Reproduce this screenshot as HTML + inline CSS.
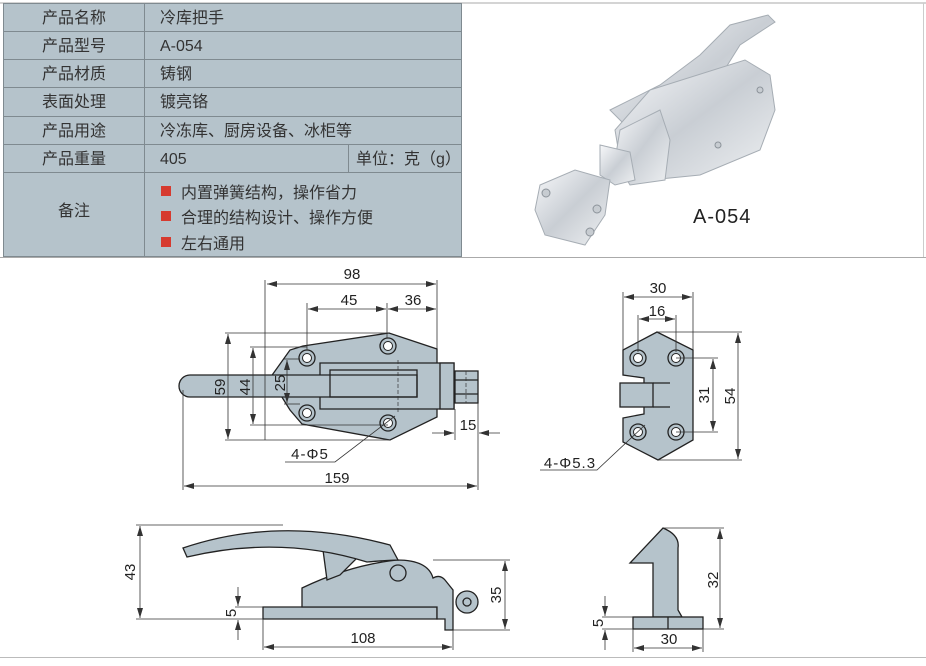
<!DOCTYPE html>
<html><head><meta charset="utf-8"><style>
body{margin:0;background:#fff;width:926px;height:661px;overflow:hidden;font-family:"Liberation Sans","Noto Sans CJK SC",sans-serif}
svg text{font-family:"Liberation Sans","Noto Sans CJK SC",sans-serif}
</style></head><body>
<svg width="926" height="661" viewBox="0 0 926 661" xmlns="http://www.w3.org/2000/svg">
<defs>
<marker id="a" viewBox="0 0 10 6" refX="10" refY="3" markerWidth="10" markerHeight="6" orient="auto-start-reverse" markerUnits="userSpaceOnUse"><path d="M0,0L10,3L0,6z" fill="#333"/></marker>
<linearGradient id="m" x1="0" y1="0" x2="1" y2="1"><stop offset="0" stop-color="#f7f8fa"/><stop offset=".5" stop-color="#c9ced4"/><stop offset="1" stop-color="#eef0f2"/></linearGradient>
</defs>
<!-- frame -->
<line x1="0" y1="3" x2="926" y2="3" stroke="#aaa"/>
<line x1="0" y1="257.5" x2="926" y2="257.5" stroke="#aaa"/>
<line x1="923.5" y1="3" x2="923.5" y2="257" stroke="#ccc"/>
<line x1="0" y1="657.5" x2="926" y2="657.5" stroke="#bbb"/>
<!-- table -->
<rect x="3" y="3" width="459" height="254" fill="#b5c3cb"/>
<g stroke="#7f8a90" stroke-width="1" fill="none">
<rect x="3.5" y="3.5" width="458" height="253"/>
<line x1="144.5" y1="3" x2="144.5" y2="257"/>
<line x1="3" y1="31.5" x2="462" y2="31.5"/><line x1="3" y1="59.5" x2="462" y2="59.5"/><line x1="3" y1="87.5" x2="462" y2="87.5"/><line x1="3" y1="116.5" x2="462" y2="116.5"/><line x1="3" y1="144.5" x2="462" y2="144.5"/><line x1="3" y1="172.5" x2="462" y2="172.5"/>
<line x1="348.5" y1="144" x2="348.5" y2="172"/>
</g>
<g font-size="16" fill="#333">
<text x="74" y="23" text-anchor="middle">产品名称</text><text x="74" y="51" text-anchor="middle">产品型号</text><text x="74" y="79" text-anchor="middle">产品材质</text><text x="74" y="107" text-anchor="middle">表面处理</text><text x="74" y="136" text-anchor="middle">产品用途</text><text x="74" y="164" text-anchor="middle">产品重量</text><text x="74" y="216" text-anchor="middle">备注</text>
<text x="160" y="23">冷库把手</text><text x="160" y="51">A-054</text><text x="160" y="79">铸钢</text><text x="160" y="107">镀亮铬</text><text x="160" y="136">冷冻库、厨房设备、冰柜等</text><text x="160" y="164">405</text><text x="356" y="164">单位：克（g）</text>
<text x="181" y="198">内置弹簧结构，操作省力</text><text x="181" y="223">合理的结构设计、操作方便</text><text x="181" y="249">左右通用</text>
</g>
<rect x="161" y="186" width="10" height="10" fill="#d63a2f"/><rect x="161" y="211" width="10" height="10" fill="#d63a2f"/><rect x="161" y="237" width="10" height="10" fill="#d63a2f"/>
<!-- photo approx -->
<g stroke="#a6adb4" stroke-width="1" fill="url(#m)">
<path d="M610,110 L660,85 L700,55 L730,25 L768,15 L775,22 L740,45 L715,85 L690,120 L650,150 Z"/>
<path d="M650,90 L745,60 L770,75 L775,110 L760,150 L700,175 L650,180 L620,160 L615,130 Z"/>
<path d="M620,130 L660,110 L670,140 L665,180 L630,185 L615,160 Z"/>
<path d="M600,145 L630,152 L635,180 L615,185 L600,175 Z"/>
<path d="M540,185 L575,170 L610,180 L605,215 L585,245 L545,235 L535,210 Z"/>
</g>
<g fill="#c7ccd1" stroke="#8c939a"><circle cx="546" cy="193" r="4"/><circle cx="597" cy="209" r="4"/><circle cx="590" cy="232" r="4"/><circle cx="760" cy="90" r="3"/><circle cx="718" cy="145" r="3"/></g>
<text x="693" y="223" font-size="20" fill="#222" letter-spacing="1">A-054</text>

<g fill="#b5c3cb" stroke="#222" stroke-width="1.3">
<path d="M303,346 L389,333 L437,349 L437,417 L390,440 L302,424 L290,410 L270,378 L290,350 Z"/>
<path d="M320,363 L454,363 L454,409 L320,409 Z"/>
<path d="M190,375 L417,375 L417,397 L190,397 A11,11 0 0 1 190,375 Z"/>
<rect x="330" y="370" width="87" height="27" fill="none"/>
<rect x="440" y="363" width="14" height="46"/>
<rect x="455" y="371" width="23" height="32"/>
<line x1="455" y1="380" x2="478" y2="380"/><line x1="455" y1="394" x2="478" y2="394"/>
<path d="M657,332 L693,350 L693,440 L658,460 L623,442 L623,418 L644,414 L644,378 L623,375 L623,350 Z"/>
<rect x="620" y="383" width="33" height="24"/>
<line x1="653" y1="383" x2="670" y2="383"/><line x1="653" y1="407" x2="670" y2="407"/>
<path d="M263,607 L437,607 L437,619 L263,619 Z"/>
<path d="M302,607 L302,588 Q350,565 397,560 Q428,560 433,578 Q440,574 445,580 L453,590 L453,630 L445,630 L445,619 L437,619 L437,607 Z"/>
<path d="M323,550 L345,540 L360,555 L340,575 L327,580 Z"/>
<path d="M183,548 Q280,515 390,545 L398,560 Q390,560 367,562 Q280,535 187,557 Z"/>
<circle cx="467" cy="602" r="11"/><circle cx="467" cy="602" r="4" fill="none"/>
<circle cx="398" cy="573" r="8"/>
<path d="M663,528 Q680,535 678,548 L678,610 L682,617 L653,617 L653,563 L630,563 Z"/>
<rect x="633" y="617" width="70" height="12"/><line x1="668" y1="617" x2="668" y2="629"/>
</g>
<g fill="#b5c3cb" stroke="#222" stroke-width="1.3">
<circle cx="307" cy="358" r="8"/><circle cx="388" cy="346" r="8"/><circle cx="307" cy="413" r="8"/><circle cx="388" cy="423" r="8"/>
<circle cx="638" cy="358" r="8"/><circle cx="676" cy="358" r="8"/><circle cx="638" cy="432" r="8"/><circle cx="676" cy="432" r="8"/>
</g>
<g fill="#fff" stroke="#222"><circle cx="307" cy="358" r="4.5"/><circle cx="388" cy="346" r="4.5"/><circle cx="307" cy="413" r="4.5"/><circle cx="388" cy="423" r="4.5"/><circle cx="638" cy="358" r="4.5"/><circle cx="676" cy="358" r="4.5"/><circle cx="638" cy="432" r="4.5"/><circle cx="676" cy="432" r="4.5"/></g>

<g stroke="#333" stroke-width="0.8" fill="none">
<line x1="265" y1="280" x2="265" y2="440"/><line x1="307" y1="303" x2="307" y2="350"/><line x1="387" y1="303" x2="387" y2="338"/><line x1="437" y1="280" x2="437" y2="349"/>
<line x1="267" y1="284" x2="436" y2="284" marker-start="url(#a)" marker-end="url(#a)"/>
<line x1="308" y1="309" x2="386" y2="309" marker-start="url(#a)" marker-end="url(#a)"/>
<line x1="388" y1="309" x2="436" y2="309" marker-start="url(#a)" marker-end="url(#a)"/>
<line x1="225" y1="333" x2="389" y2="333"/><line x1="225" y1="440" x2="390" y2="440"/>
<line x1="228" y1="334" x2="228" y2="439" marker-start="url(#a)" marker-end="url(#a)"/>
<line x1="250" y1="347" x2="307" y2="347"/><line x1="250" y1="425" x2="388" y2="425"/>
<line x1="253" y1="348" x2="253" y2="424" marker-start="url(#a)" marker-end="url(#a)"/>
<line x1="284" y1="359" x2="300" y2="359"/><line x1="284" y1="404" x2="300" y2="404"/>
<line x1="287" y1="360" x2="287" y2="403" marker-start="url(#a)" marker-end="url(#a)"/>
<line x1="183" y1="390" x2="183" y2="490"/><line x1="478" y1="403" x2="478" y2="490"/><line x1="455" y1="409" x2="455" y2="440"/>
<line x1="184" y1="486" x2="477" y2="486" marker-start="url(#a)" marker-end="url(#a)"/>
<line x1="432" y1="433" x2="454" y2="433" marker-end="url(#a)"/><line x1="500" y1="433" x2="479" y2="433" marker-end="url(#a)"/>
<polyline points="395,416 335,462 285,462"/>
<line x1="623" y1="292" x2="623" y2="350"/><line x1="693" y1="292" x2="693" y2="350"/>
<line x1="624" y1="297" x2="692" y2="297" marker-start="url(#a)" marker-end="url(#a)"/>
<line x1="638" y1="315" x2="638" y2="352"/><line x1="676" y1="315" x2="676" y2="352"/>
<line x1="639" y1="319" x2="675" y2="319" marker-start="url(#a)" marker-end="url(#a)"/>
<line x1="676" y1="358" x2="718" y2="358"/><line x1="676" y1="432" x2="718" y2="432"/>
<line x1="713" y1="359" x2="713" y2="431" marker-start="url(#a)" marker-end="url(#a)"/>
<line x1="657" y1="332" x2="742" y2="332"/><line x1="658" y1="460" x2="742" y2="460"/>
<line x1="738" y1="333" x2="738" y2="459" marker-start="url(#a)" marker-end="url(#a)"/>
<polyline points="645,425 597,470 540,470"/>
<line x1="136" y1="525" x2="283" y2="525"/><line x1="136" y1="619" x2="263" y2="619"/>
<line x1="140" y1="526" x2="140" y2="618" marker-start="url(#a)" marker-end="url(#a)"/>
<line x1="433" y1="560" x2="510" y2="560"/><line x1="453" y1="630" x2="510" y2="630"/>
<line x1="505" y1="561" x2="505" y2="629" marker-start="url(#a)" marker-end="url(#a)"/>
<line x1="235" y1="607" x2="263" y2="607"/>
<line x1="238" y1="587" x2="238" y2="606" marker-end="url(#a)"/><line x1="238" y1="640" x2="238" y2="620" marker-end="url(#a)"/>
<line x1="263" y1="619" x2="263" y2="650"/><line x1="453" y1="630" x2="453" y2="650"/>
<line x1="264" y1="647" x2="452" y2="647" marker-start="url(#a)" marker-end="url(#a)"/>
<line x1="663" y1="528" x2="724" y2="528"/><line x1="703" y1="629" x2="724" y2="629"/>
<line x1="720" y1="529" x2="720" y2="628" marker-start="url(#a)" marker-end="url(#a)"/>
<line x1="602" y1="617" x2="633" y2="617"/><line x1="602" y1="629" x2="633" y2="629"/>
<line x1="605" y1="596" x2="605" y2="616" marker-end="url(#a)"/><line x1="605" y1="650" x2="605" y2="630" marker-end="url(#a)"/>
<line x1="633" y1="629" x2="633" y2="652"/><line x1="703" y1="629" x2="703" y2="652"/>
<line x1="634" y1="648" x2="702" y2="648" marker-start="url(#a)" marker-end="url(#a)"/>
</g>
<g stroke="#333" stroke-width="0.7" stroke-dasharray="4,2" fill="none">
<line x1="398" y1="360" x2="398" y2="412"/><line x1="466" y1="371" x2="466" y2="403"/>
</g>
<g font-size="15" fill="#222" text-anchor="middle">
<text x="352" y="279">98</text><text x="349" y="305">45</text><text x="413" y="305">36</text>
<text x="468" y="430">15</text><text x="337" y="483">159</text><text x="310" y="459" letter-spacing="1">4-Φ5</text>
<text transform="translate(225,387) rotate(-90)">59</text>
<text transform="translate(250,387) rotate(-90)">44</text>
<text transform="translate(285,383) rotate(-90)">25</text>
<text x="658" y="293">30</text><text x="657" y="316">16</text>
<text transform="translate(709,395) rotate(-90)">31</text>
<text transform="translate(735,396) rotate(-90)">54</text>
<text x="570" y="468" letter-spacing="1">4-Φ5.3</text>
<text transform="translate(135,572) rotate(-90)">43</text>
<text transform="translate(501,595) rotate(-90)">35</text>
<text transform="translate(236,613) rotate(-90)">5</text>
<text x="363" y="643">108</text>
<text transform="translate(718,580) rotate(-90)">32</text>
<text transform="translate(603,623) rotate(-90)">5</text>
<text x="669" y="644">30</text>
</g>
</svg>
</body></html>
